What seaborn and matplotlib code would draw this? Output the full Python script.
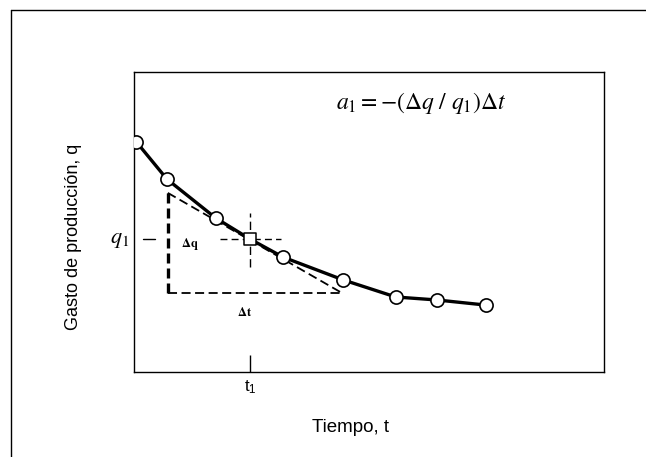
import matplotlib
matplotlib.use("Agg")
import matplotlib.pyplot as plt
import seaborn as sns
import pandas as pd
from matplotlib.lines import Line2D

# decline curve points (time, rate)
tiempo = [0.05, 0.70, 1.74, 2.47, 3.17, 4.45, 5.57, 6.45, 7.49]
gasto = [7.67, 6.43, 5.13, 4.43, 3.83, 3.07, 2.50, 2.40, 2.23]

t1 = 2.47
q1 = 4.43

# tangent triangle corners
tri_t = [0.72, 0.72, 4.43]
tri_q = [5.97, 2.63, 2.63]

sns.set_theme(style="white", rc={"text.color": "black", "axes.labelcolor": "black",
                                 "xtick.color": "black", "ytick.color": "black"})
plt.rcParams["font.family"] = ["Liberation Sans", "DejaVu Sans"]
plt.rcParams["mathtext.fontset"] = "stix"

fig = plt.figure(figsize=(6.46, 4.57), dpi=100)
ax = fig.add_axes([0.2074, 0.186, 0.7276, 0.6565])

df = pd.DataFrame({"t": tiempo, "q": gasto})
sns.lineplot(data=df, x="t", y="q", ax=ax, color="black", linewidth=2.4, zorder=3)
pts = df.drop(index=3)
sns.scatterplot(data=pts, x="t", y="q", ax=ax, s=90, marker="o", facecolor="white",
                edgecolor="black", linewidth=1.2, zorder=4)
ax.scatter([t1], [q1], s=80, marker="s", facecolor="white", edgecolor="black",
           linewidth=1.1, zorder=4)

# triangle: vertical and horizontal legs, tangent hypotenuse
ax.plot(tri_t[:2], tri_q[:2], color="black", linestyle=(0, (3, 1.5)), linewidth=2.4, zorder=2)
ax.plot(tri_t[1:], tri_q[1:], color="black", linestyle=(0, (5, 2.5)), linewidth=1.3, zorder=2)
ax.plot([tri_t[0], tri_t[2]], [tri_q[0], tri_q[2]], color="black",
        linestyle=(0, (5, 2.5)), linewidth=1.3, zorder=2)

# crosshair at (t1, q1)
ax.plot([0.19, 0.45], [q1, q1], color="black", linewidth=1.0)
ax.plot([1.83, 3.13], [q1, q1], color="black", linewidth=1.0, linestyle=(0, (5, 3)))
ax.plot([t1, t1], [3.5, 5.3], color="black", linewidth=1.0, linestyle=(0, (6, 3)))

ax.set_xlim(0, 10)
ax.set_ylim(0, 10)
ax.set_xticks([t1])
ax.set_xticklabels([r"t$_{\mathregular{1}}$"], fontsize=12)
ax.tick_params(axis="x", bottom=True, direction="in", length=12, width=1.0,
               color="black", pad=5)
ax.set_yticks([])
for s in ax.spines.values():
    s.set_color("black")
    s.set_linewidth(1.0)
ax.set_xlabel("Tiempo, t", fontsize=13.5)
ax.set_ylabel("Gasto de producción, q", fontsize=13)
ax.xaxis.set_label_coords(0.46, -0.155)
ax.yaxis.set_label_coords(-0.11, 0.45)

ax.text(-0.1, q1, r"$q_1$", fontsize=16, ha="right", va="center")
ax.text(1.0, q1 - 0.15, r"$\mathbf{\Delta q}$", fontsize=9, ha="left", va="center")
ax.text(2.35, tri_q[1] - 0.65, r"$\mathbf{\Delta t}$", fontsize=9, ha="center", va="center")
ax.text(4.3, 8.95, r"$a_1 = -\left(\Delta q\ /\ q_1\right)\Delta t$", fontsize=17,
        ha="left", va="center")

# outer frame of the figure
fig.add_artist(Line2D([0.017, 0.017], [0.0, 0.978], color="black", linewidth=1.0))
fig.add_artist(Line2D([0.017, 1.0], [0.978, 0.978], color="black", linewidth=1.0))

fig.savefig("out.png", dpi=100)
